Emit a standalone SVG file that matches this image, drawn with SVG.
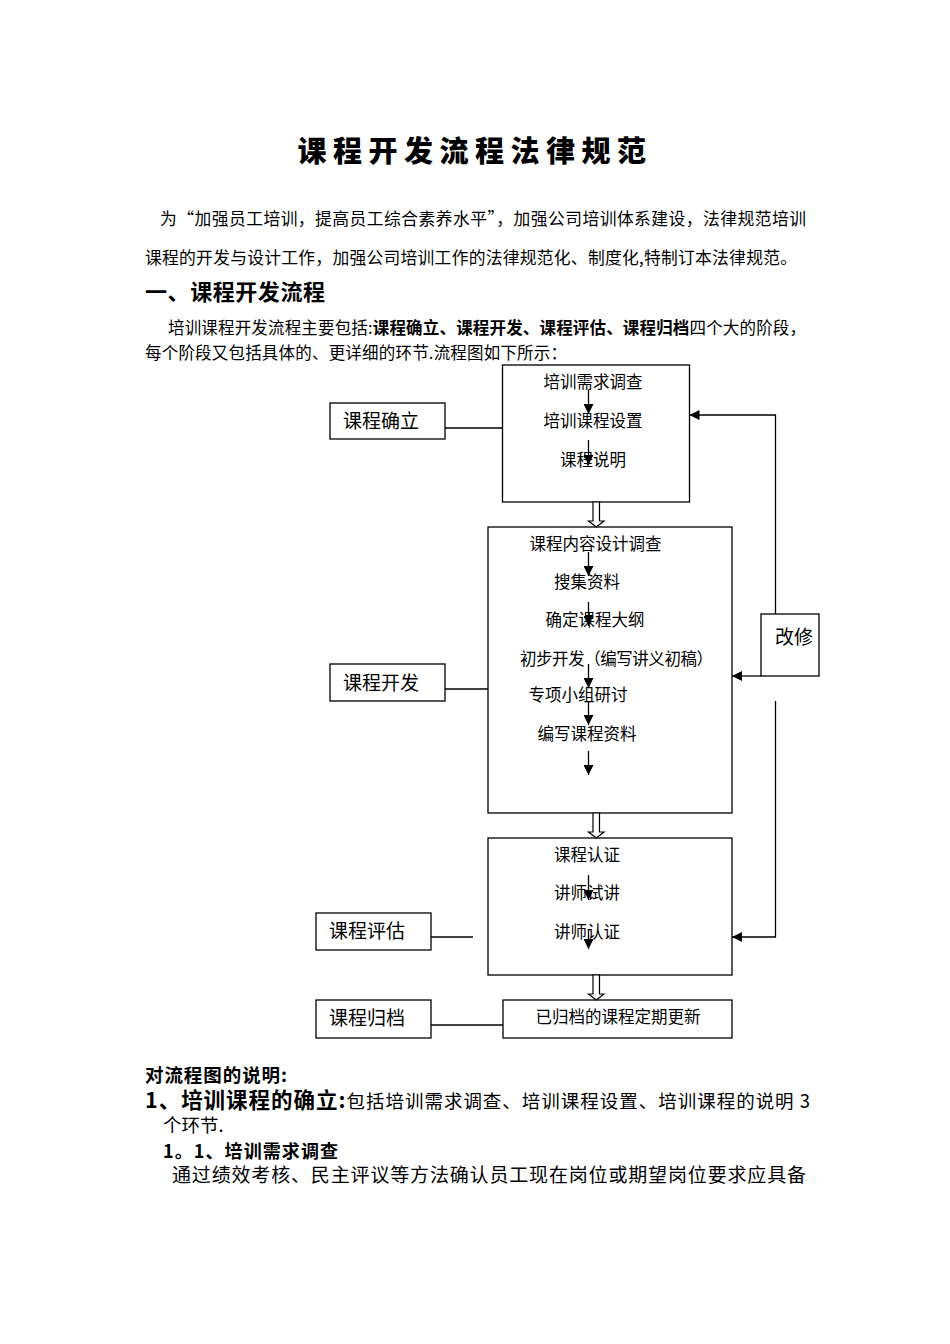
<svg xmlns="http://www.w3.org/2000/svg" width="950" height="1344" viewBox="0 0 950 1344">
<defs>
<style>
.t{font-family:"Noto Sans CJK SC","Liberation Sans",sans-serif;fill:#000}
.b{font-weight:bold}
.fc{font-size:16.5px}
.lbl{font-size:19px}
.box{fill:none;stroke:#000;stroke-width:1.3}
.ln{fill:none;stroke:#000;stroke-width:1.3}
.ha{fill:#fff;stroke:#000;stroke-width:1.2}
</style>
<marker id="ah" markerUnits="userSpaceOnUse" markerWidth="10" markerHeight="10" refX="10" refY="5" orient="auto">
<path d="M0,0 L10,5 L0,10 z" fill="#000"/>
</marker>
</defs>
<rect width="950" height="1344" fill="#fff"/>

<text class="t" x="475" y="162" text-anchor="middle" font-size="29" font-weight="900" letter-spacing="6.5">课程开发流程法律规范</text>
<text class="t" x="160" y="225" font-size="16.8" textLength="646" lengthAdjust="spacing">为“加强员工培训，提高员工综合素养水平”，加强公司培训体系建设，法律规范培训</text>
<text class="t" x="145" y="264" font-size="16.8" textLength="652" lengthAdjust="spacing">课程的开发与设计工作，加强公司培训工作的法律规范化、制度化,特制订本法律规范。</text>
<text class="t b" x="145" y="300" font-size="22" textLength="180" lengthAdjust="spacing">一、课程开发流程</text>
<text class="t" x="168" y="334" font-size="16.5" textLength="638" lengthAdjust="spacing">培训课程开发流程主要包括:<tspan class="b">课程确立、课程开发、课程评估、课程归档</tspan>四个大的阶段，</text>
<text class="t" x="145" y="359" font-size="16.5" textLength="422" lengthAdjust="spacing">每个阶段又包括具体的、更详细的环节.流程图如下所示：</text>

<g id="stage1">
<rect class="box" x="330" y="403" width="115" height="36"/>
<text class="t lbl" x="343" y="428">课程确立</text>
</g>
<g id="stage2">
<rect class="box" x="330" y="664" width="115" height="37"/>
<text class="t lbl" x="343" y="690">课程开发</text>
</g>
<g id="stage3">
<rect class="box" x="316" y="913" width="115" height="37"/>
<text class="t lbl" x="329" y="938">课程评估</text>
</g>
<g id="stage4">
<rect class="box" x="316" y="1000" width="115" height="38"/>
<text class="t lbl" x="329" y="1025">课程归档</text>
</g>
<g id="revise">
<rect class="box" x="761" y="614" width="58" height="62"/>
<text class="t lbl" x="775" y="644">改修</text>
</g>

<g id="box1">
<rect class="box" x="502.5" y="365" width="187" height="137"/>
<text class="t fc" x="593" y="388" text-anchor="middle">培训需求调查</text>
<text class="t fc" x="593" y="427" text-anchor="middle">培训课程设置</text>
<text class="t fc" x="593" y="466" text-anchor="middle">课程说明</text>
</g>
<g id="box2">
<rect class="box" x="488" y="527" width="244" height="286"/>
<text class="t fc" x="595.5" y="550" text-anchor="middle">课程内容设计调查</text>
<text class="t fc" x="587" y="588" text-anchor="middle">搜集资料</text>
<text class="t fc" x="595" y="626" text-anchor="middle">确定课程大纲</text>
<text class="t fc" x="520" y="665" textLength="193" lengthAdjust="spacing">初步开发（编写讲义初稿）</text>
<text class="t fc" x="578" y="701" text-anchor="middle">专项小组研讨</text>
<text class="t fc" x="587" y="740" text-anchor="middle">编写课程资料</text>
</g>
<g id="box3">
<rect class="box" x="488" y="838" width="244" height="137"/>
<text class="t fc" x="587" y="861" text-anchor="middle">课程认证</text>
<text class="t fc" x="587" y="899" text-anchor="middle">讲师试讲</text>
<text class="t fc" x="587" y="938" text-anchor="middle">讲师认证</text>
</g>
<g id="box4">
<rect class="box" x="503" y="1000" width="229" height="38"/>
<text class="t fc" x="618" y="1023" text-anchor="middle">已归档的课程定期更新</text>
</g>

<g id="connectors">
<line class="ln" x1="445" y1="428" x2="502.5" y2="428"/>
<line class="ln" x1="445" y1="689" x2="488" y2="689"/>
<line class="ln" x1="431" y1="937" x2="473" y2="937"/>
<line class="ln" x1="431" y1="1025" x2="503" y2="1025"/>

<line class="ln" x1="588.5" y1="390" x2="588.5" y2="414" marker-end="url(#ah)"/>
<line class="ln" x1="588.5" y1="440" x2="588.5" y2="465" marker-end="url(#ah)"/>
<line class="ln" x1="588.5" y1="552" x2="588.5" y2="576" marker-end="url(#ah)"/>
<line class="ln" x1="588.5" y1="602" x2="588.5" y2="626" marker-end="url(#ah)"/>
<line class="ln" x1="588.5" y1="664" x2="588.5" y2="688" marker-end="url(#ah)"/>
<line class="ln" x1="588.5" y1="702" x2="588.5" y2="725" marker-end="url(#ah)"/>
<line class="ln" x1="588.5" y1="751" x2="588.5" y2="775" marker-end="url(#ah)"/>
<line class="ln" x1="588.5" y1="875" x2="588.5" y2="900" marker-end="url(#ah)"/>
<line class="ln" x1="588.5" y1="930" x2="588.5" y2="949" marker-end="url(#ah)"/>

<polygon class="ha" points="593,502 599.5,502 599.5,521 604,521 596.25,527 588.5,521 593,521"/>
<polygon class="ha" points="593,813 599.5,813 599.5,832 604,832 596.25,838 588.5,832 593,832"/>
<polygon class="ha" points="593,975 599.5,975 599.5,994 604,994 596.25,1000 588.5,994 593,994"/>

<polyline class="ln" points="775.5,614 775.5,415 689.5,415" marker-end="url(#ah)"/>
<line class="ln" x1="761" y1="676" x2="732" y2="676" marker-end="url(#ah)"/>
<polyline class="ln" points="775.5,701 775.5,937 732,937" marker-end="url(#ah)"/>
</g>

<text class="t b" x="145" y="1082" font-size="18.5" textLength="142" lengthAdjust="spacing">对流程图的说明:</text>
<text class="t" x="145" y="1108" font-size="18.5" textLength="665" lengthAdjust="spacing"><tspan class="b" font-size="21.5">1、培训课程的确立:</tspan>包括培训需求调查、培训课程设置、培训课程的说明 3</text>
<text class="t" x="163" y="1132" font-size="18.5">个环节.</text>
<text class="t b" x="163" y="1158" font-size="18" textLength="175" lengthAdjust="spacing">1。1、培训需求调查</text>
<text class="t" x="172" y="1182" font-size="19" textLength="634" lengthAdjust="spacing">通过绩效考核、民主评议等方法确认员工现在岗位或期望岗位要求应具备</text>
</svg>
